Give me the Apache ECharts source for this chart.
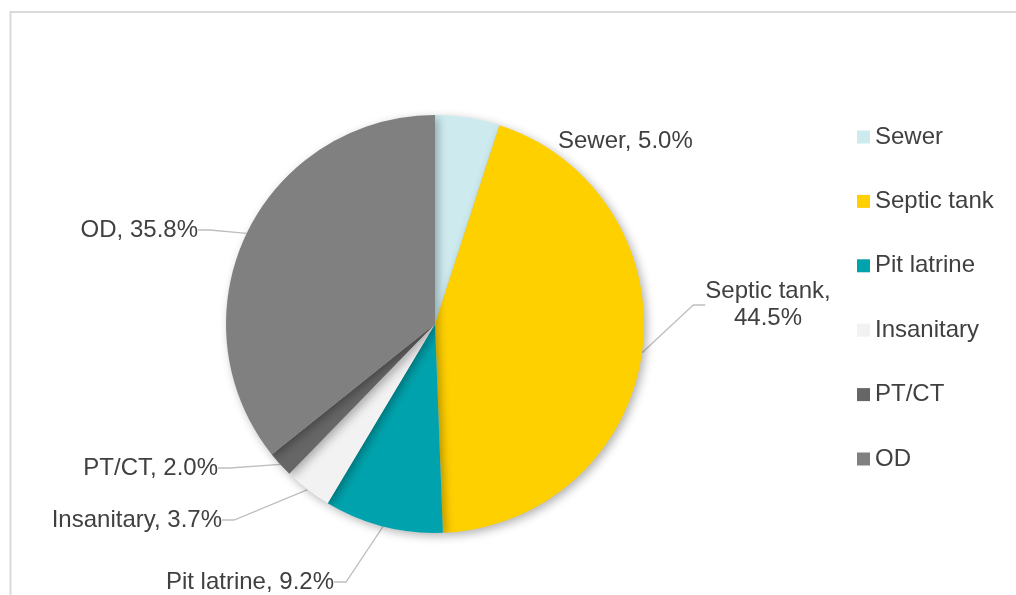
<!DOCTYPE html>
<html>
<head>
<meta charset="utf-8">
<script src="https://cdn.jsdelivr.net/npm/echarts@6/dist/echarts.min.js"></script>
<style>
  html, body { margin: 0; padding: 0; background: #ffffff; }
  #chart { width: 1016px; height: 595px; }
</style>
</head>
<body>
<div id="chart"></div>
<script>
// Sanitation categories and their shares (%)
const categories = ['Sewer', 'Septic tank', 'Pit latrine', 'Insanitary', 'PT/CT', 'OD'];
const shares = [5.0, 44.5, 9.2, 3.7, 2.0, 35.8];
const colors = ['#cdebef', '#ffd000', '#00a3ad', '#f2f2f2', '#666666', '#808080'];

// Where each slice label sits around the pie
const labelSpots = {
  0: { x: 558, y: 141, align: 'left' },
  1: { x: 768, y: 305, align: 'center' },
  2: { x: 334, y: 582, align: 'right' },
  3: { x: 222, y: 520, align: 'right' },
  4: { x: 218, y: 468, align: 'right' },
  5: { x: 198, y: 230, align: 'right' }
};

const chart = echarts.init(document.getElementById('chart'), null, { renderer: 'canvas' });

const textFont = 'Liberation Sans, Arial, sans-serif';

chart.setOption({
  animation: false,
  backgroundColor: '#ffffff',
  graphic: [{
    type: 'rect',
    shape: { x: 10.5, y: 12, width: 1100, height: 700 },
    style: { fill: 'none', stroke: '#d9d9d9', lineWidth: 2 },
    silent: true
  }],
  legend: {
    orient: 'vertical',
    left: 857,
    top: 125,
    padding: 0,
    itemWidth: 13,
    itemHeight: 13,
    itemGap: 40.4,
    icon: 'rect',
    data: categories,
    textStyle: { fontFamily: textFont, fontSize: 24, color: '#404040', lineHeight: 24 }
  },
  series: [{
    type: 'pie',
    center: [435, 324],
    radius: 209,
    startAngle: 90,
    clockwise: true,
    avoidLabelOverlap: false,
    data: categories.map((name, i) => ({
      name: name,
      value: shares[i],
      itemStyle: { color: colors[i] },
      // the small sewer label sits right beside its slice, without a leader
      labelLine: { show: i !== 0 }
    })),
    itemStyle: {
      shadowBlur: 10,
      shadowOffsetX: 3,
      shadowOffsetY: 3,
      shadowColor: 'rgba(0,0,0,0.3)'
    },
    label: {
      show: true,
      fontFamily: textFont,
      fontSize: 24,
      lineHeight: 27,
      color: '#404040',
      formatter: (p) => p.dataIndex === 1
        ? p.name + ',\n' + p.value.toFixed(1) + '%'
        : p.name + ', ' + p.value.toFixed(1) + '%'
    },
    labelLine: {
      show: true,
      length: 20,
      length2: 12,
      lineStyle: { color: '#bfbfbf', width: 1.3 }
    },
    labelLayout: (params) => {
      const s = labelSpots[params.dataIndex];
      return { x: s.x, y: s.y, align: s.align, verticalAlign: 'middle' };
    }
  }]
});
</script>
</body>
</html>
